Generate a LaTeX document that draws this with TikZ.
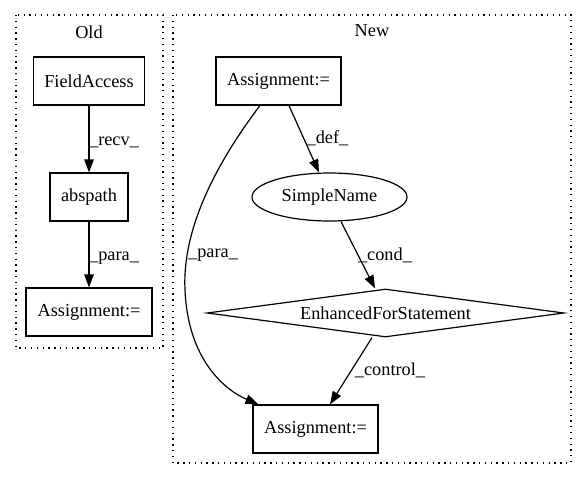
\documentclass[tikz,border=0pt]{standalone}
\usepackage{fontspec}
\setmainfont{Liberation Serif}
\usetikzlibrary{shapes.geometric,arrows.meta}
\begin{document}
\begin{tikzpicture}[x=1pt,y=-1pt,
  every node/.style={font=\fontsize{18.3}{20}\selectfont},
  box/.style={draw,line width=1.2pt,inner sep=0pt,minimum height=48pt},
  ell/.style={draw,line width=1.2pt,ellipse,inner sep=0pt,minimum width=155pt,minimum height=48pt},
  dia/.style={draw,line width=1.2pt,diamond,aspect=7.4,inner sep=0pt,minimum width=357pt,minimum height=48pt},
  edge/.style={draw,line width=1.2pt,-{Triangle[length=13pt,width=9.5pt]}},
  elabel/.style={inner sep=0pt},
  cluster/.style={draw,line width=1.2pt,dash pattern=on 1.3pt off 4.5pt}]
\useasboundingbox (0,0) rectangle (587,480);
% clusters
\draw[cluster] (16,15) rectangle (163,348);
\draw[cluster] (173,15) rectangle (571,463);
\node (oldlbl) at (89,32) {Old};
\node (newlbl) at (372,31) {New};
% Old nodes
\node[box,minimum width=111pt] (fa) at (89,81) {FieldAccess};
\node[box,minimum width=78pt] (abs) at (89,197) {abspath};
\node[box,minimum width=126pt] (oas) at (89,312) {Assignment:=};
% New nodes
\node[box,minimum width=125pt] (nas) at (278.5,81) {Assignment:=};
\node[ell] (sn) at (329.5,197) {SimpleName};
\node[dia] (efs) at (385.5,313) {EnhancedForStatement};
\node[box,minimum width=125pt] (nbs) at (315.5,429) {Assignment:=};
% edges Old
\draw[edge] (fa) -- (abs);
\draw[edge] (abs) -- (oas);
\node[elabel] (l1) at (114,142) {\_recv\_};
\node[elabel] (l2) at (114,258) {\_para\_};
% edges New
\draw[edge] (nas.south -| 289,0) -- (sn.north -| 319,0);
\draw[edge] (sn.south -| 341,0) -- (efs.north -| 375,0);
\draw[edge] (efs.south -| 372,0) -- (nbs.north -| 330,0);
\draw[edge] (nas) .. controls (215,165) and (182,230) .. (185,290)
   .. controls (188,360) and (225,390) .. (nbs);
\node[elabel] (l3) at (327.5,138) {\_def\_};
\node[elabel] (l4) at (385,255) {\_cond\_};
\node[elabel] (l5) at (213,255) {\_para\_};
\node[elabel] (l6) at (390,370) {\_control\_};
\end{tikzpicture}
\end{document}
